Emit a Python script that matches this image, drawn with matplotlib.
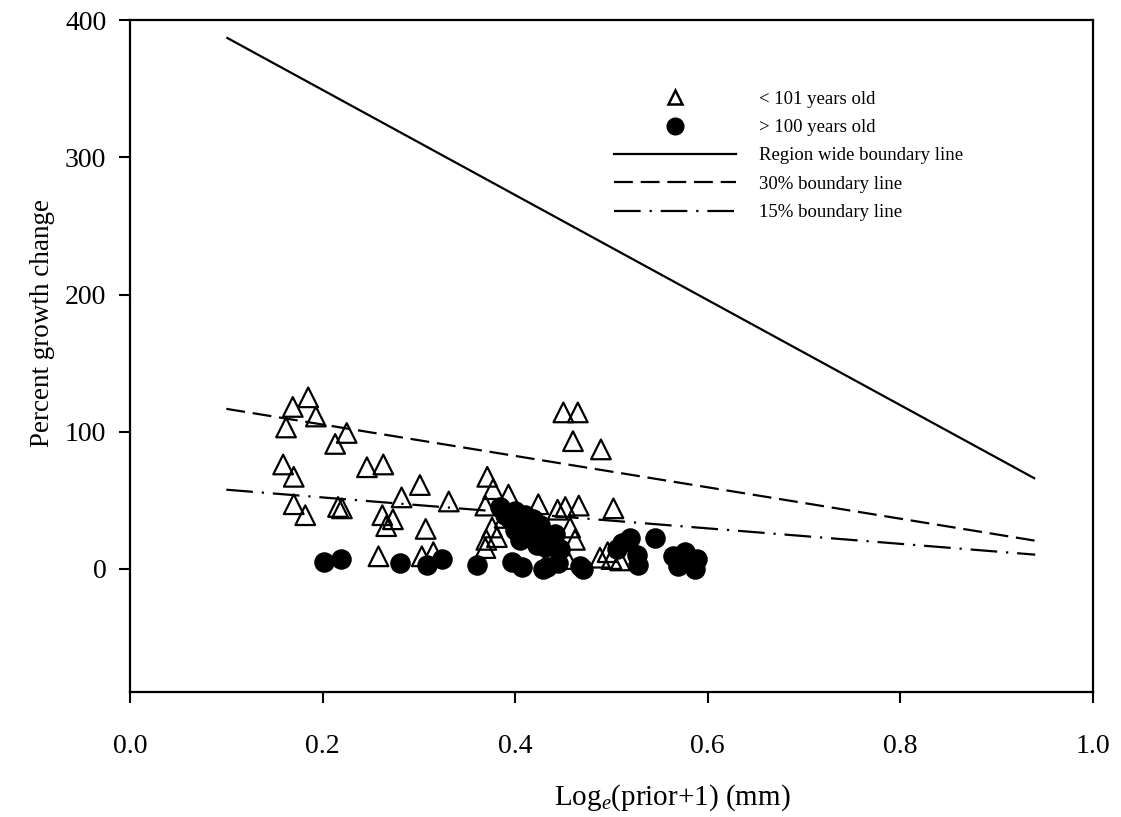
import matplotlib
matplotlib.use("Agg")
import matplotlib.pyplot as plt
from matplotlib.lines import Line2D

plt.rcParams["font.family"] = ["Liberation Serif", "DejaVu Serif"]
plt.rcParams["mathtext.fontset"] = "custom"
plt.rcParams["mathtext.rm"] = "Liberation Serif"
plt.rcParams["mathtext.it"] = "Liberation Serif:italic"

# < 101 years old (open triangles)
young_x = [0.185, 0.169, 0.193, 0.162, 0.225, 0.213, 0.159, 0.170, 0.246, 0.263,
           0.170, 0.182, 0.216, 0.220, 0.262, 0.273, 0.266, 0.282, 0.301, 0.331,
           0.307, 0.258, 0.303, 0.315, 0.371, 0.377, 0.393, 0.369, 0.370, 0.369,
           0.381, 0.424, 0.450, 0.465, 0.460, 0.489, 0.444, 0.452, 0.466, 0.502,
           0.457, 0.462, 0.488, 0.496, 0.509, 0.446, 0.436, 0.389, 0.376, 0.500,
           0.454]
young_y = [125, 118, 111, 103, 99, 91, 76, 67, 74, 76,
           47, 39, 45, 44, 39, 36, 31, 52, 61, 49,
           29, 9, 9, 12, 67, 58, 54, 46, 21, 15,
           23, 47, 114, 114, 93, 87, 43, 45, 46, 44,
           30, 21, 8, 12, 6, 17, 10, 37, 30, 7,
           7]

# > 100 years old (filled circles)
old_x = [0.201, 0.219, 0.280, 0.308, 0.324, 0.360, 0.397, 0.407, 0.433, 0.444,
         0.467, 0.384, 0.389, 0.395, 0.400, 0.405, 0.410, 0.413, 0.418, 0.422,
         0.426, 0.431, 0.436, 0.441, 0.447, 0.400, 0.415, 0.431, 0.441, 0.405,
         0.423, 0.506, 0.519, 0.511, 0.545, 0.526, 0.528, 0.564, 0.576, 0.589,
         0.587, 0.569, 0.429, 0.470]
old_y = [5, 7, 4, 3, 7, 3, 5, 1.5, 1.5, 4,
         2, 45, 39, 36, 42, 34, 39, 30, 36, 27,
         32, 25, 21, 17, 14, 28, 23, 16, 25, 21,
         17, 14, 22, 19, 22, 10, 3, 9, 12, 7,
         0, 2, 0, 0]

# boundary lines (end points)
line_x = [0.1, 0.94]
region_y = [387.6, 65.6]
b30_y = [116.6, 20.4]
b15_y = [57.6, 10.2]

fig = plt.figure(figsize=(11.21, 8.17), dpi=100)
ax = fig.add_axes([0.116, 0.153, 0.859, 0.822])

ax.plot(line_x, region_y, color="black", lw=1.6, solid_capstyle="butt")
ax.plot(line_x, b30_y, color="black", lw=1.6, dashes=[8.5, 3.5])
ax.plot(line_x, b15_y, color="black", lw=1.6, dashes=[12, 4, 1, 4])

ax.scatter(old_x, old_y, s=190, marker="o", color="black", zorder=3)
ax.scatter(young_x, young_y, s=200, marker="^", facecolors="none",
           edgecolors="black", linewidths=1.6, zorder=4)

ax.set_xlim(0, 1.0)
ax.set_ylim(-90, 400)
ax.set_xticks([0.0, 0.2, 0.4, 0.6, 0.8, 1.0])
ax.set_xticklabels(["0.0", "0.2", "0.4", "0.6", "0.8", "1.0"])
ax.set_yticks([0, 100, 200, 300, 400])
ax.tick_params(axis="both", direction="out", length=8, width=1.5, labelsize=20)
ax.tick_params(axis="x", pad=22)
ax.tick_params(axis="y", pad=9)
ax.tick_params(top=False, right=False)
for sp in ax.spines.values():
    sp.set_linewidth(1.6)

ax.set_xlabel("Log$_e$(prior+1) (mm)", fontsize=21)
ax.set_ylabel("Percent growth change", fontsize=19.5)
ax.xaxis.set_label_coords(0.563, -0.135)
ax.yaxis.set_label_coords(-0.078, 0.549)

handles = [
    Line2D([], [], ls="none", marker="^", ms=10, mfc="none", mec="black", mew=1.8),
    Line2D([], [], ls="none", marker="o", ms=12, color="black"),
    Line2D([], [], color="black", lw=1.6),
    Line2D([], [], color="black", lw=1.6, dashes=[8.5, 3.5]),
    Line2D([], [], color="black", lw=1.6, dashes=[12, 4, 1, 4]),
]
labels = ["< 101 years old", "> 100 years old", "Region wide boundary line",
          "30% boundary line", "15% boundary line"]
ax.legend(handles, labels, loc="upper left", bbox_to_anchor=(0.503, 0.8955),
          frameon=False, fontsize=13.5, handlelength=6.5, handletextpad=1.2,
          labelspacing=0.6, borderpad=0, borderaxespad=0)

fig.savefig("out.png", dpi=100)
